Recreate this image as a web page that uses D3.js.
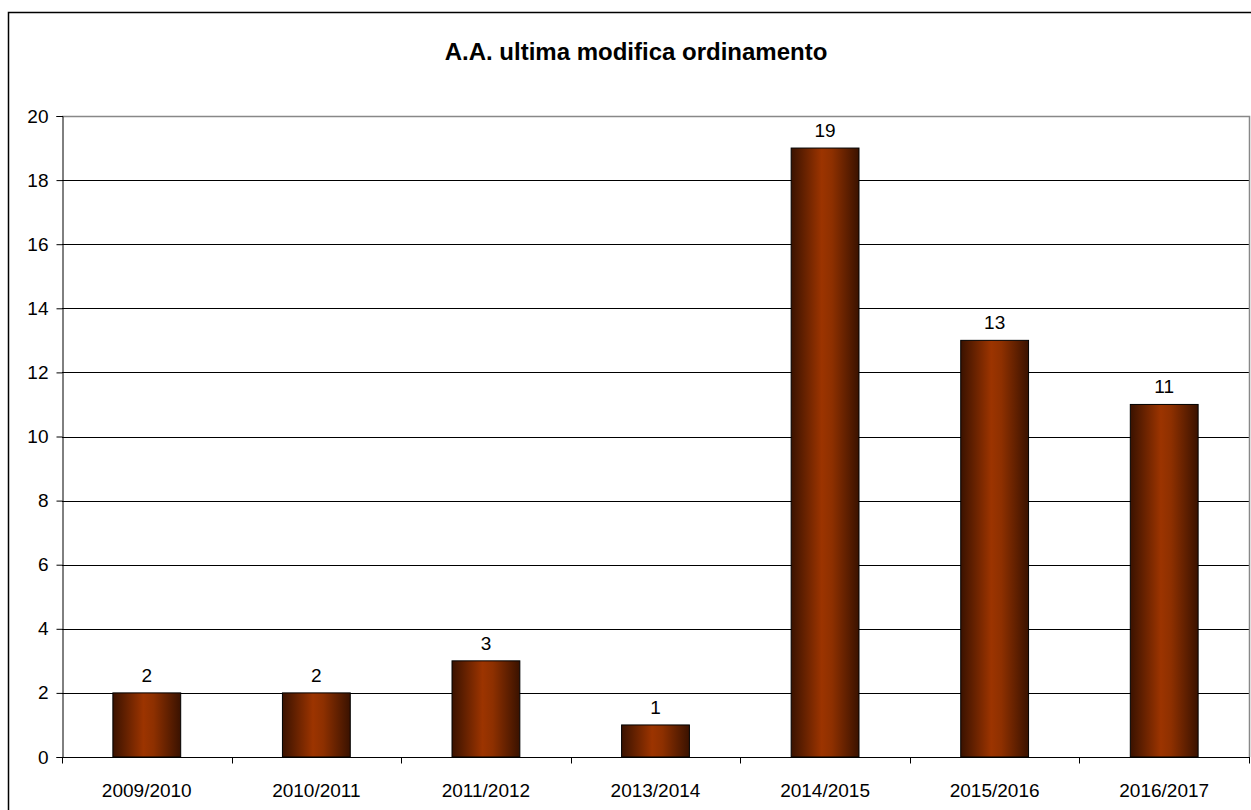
<!DOCTYPE html>
<html>
<head>
<meta charset="utf-8">
<script src="https://cdn.jsdelivr.net/npm/d3@7"></script>
<style>
  body { margin: 0; background: #fff; }
  text { font-family: "Liberation Sans", Arial, sans-serif; fill: #000; }
</style>
</head>
<body>
<div id="chart"></div>
<script>
// chart data
var categories = ["2009/2010", "2010/2011", "2011/2012", "2013/2014", "2014/2015", "2015/2016", "2016/2017"];
var values = [2, 2, 3, 1, 19, 13, 11];
var yTicks = [0, 2, 4, 6, 8, 10, 12, 14, 16, 18, 20];
var title = "A.A. ultima modifica ordinamento";

var width = 1251, height = 810;
var plot = {left: 62, top: 116, right: 1249, bottom: 757};

var svg = d3.select("#chart").append("svg")
    .attr("width", width)
    .attr("height", height);

var defs = svg.append("defs");
var grad = defs.append("linearGradient")
    .attr("id", "barGrad")
    .attr("x1", "0").attr("y1", "0")
    .attr("x2", "1").attr("y2", "0");
grad.append("stop").attr("offset", "0%").attr("stop-color", "#3a1200");
grad.append("stop").attr("offset", "45%").attr("stop-color", "#9c3400");
grad.append("stop").attr("offset", "60%").attr("stop-color", "#8e3000");
grad.append("stop").attr("offset", "100%").attr("stop-color", "#3a1200");

// outer frame
svg.append("rect")
    .attr("x", 8.5).attr("y", 12.5)
    .attr("width", 1270).attr("height", 830)
    .attr("fill", "none")
    .attr("stroke", "#000")
    .attr("stroke-width", 1.5);

svg.append("text")
    .attr("x", 636).attr("y", 60)
    .attr("text-anchor", "middle")
    .attr("font-size", "24px")
    .attr("font-weight", "bold")
    .text(title);

var x = d3.scaleBand()
    .domain(categories)
    .range([plot.left, plot.right])
    .paddingInner(0.6)
    .paddingOuter(0.3);

var y = d3.scaleLinear()
    .domain([0, 20])
    .range([plot.bottom, plot.top]);

// gridlines
svg.append("g")
    .attr("class", "grid")
    .selectAll("line")
    .data(yTicks.filter(function(d) { return d > 0 && d < 20; }))
    .enter().append("line")
    .attr("x1", plot.left).attr("x2", plot.right)
    .attr("y1", function(d) { return Math.round(y(d)) + 0.5; })
    .attr("y2", function(d) { return Math.round(y(d)) + 0.5; })
    .attr("stroke", "#000")
    .attr("stroke-width", 1);

// plot border (top and right in gray)
svg.append("path")
    .attr("d", "M" + plot.left + "," + (plot.top + 0.5) + "H" + (plot.right + 0.5) + "V" + plot.bottom)
    .attr("fill", "none")
    .attr("stroke", "#888")
    .attr("stroke-width", 1.5);

// y axis
var yAxis = svg.append("g")
    .attr("transform", "translate(" + (plot.left + 0.5) + ",0)")
    .call(d3.axisLeft(y).tickValues(yTicks).tickSize(6).tickPadding(8));
yAxis.select(".domain").attr("stroke", "#000");
yAxis.selectAll("text").attr("font-size", "19px").attr("font-family", "Liberation Sans, Arial, sans-serif");

// x axis with ticks at category boundaries
var xg = svg.append("g").attr("transform", "translate(0," + (plot.bottom + 0.5) + ")");
xg.append("line")
    .attr("x1", plot.left).attr("x2", plot.right + 1)
    .attr("stroke", "#000");
var bounds = d3.range(categories.length + 1).map(function(i) { return plot.left + i * (plot.right - plot.left) / categories.length; });
xg.selectAll(".tick")
    .data(bounds)
    .enter().append("line")
    .attr("x1", function(d) { return Math.round(d) + 0.5; })
    .attr("x2", function(d) { return Math.round(d) + 0.5; })
    .attr("y1", 0).attr("y2", 6)
    .attr("stroke", "#000");
xg.selectAll(".lbl")
    .data(categories)
    .enter().append("text")
    .attr("x", function(d) { return x(d) + x.bandwidth() / 2; })
    .attr("y", 39)
    .attr("text-anchor", "middle")
    .attr("font-size", "19px")
    .text(function(d) { return d; });

// bars
var data = categories.map(function(c, i) { return {name: c, value: values[i]}; });
svg.append("g").selectAll("rect")
    .data(data)
    .enter().append("rect")
    .attr("x", function(d) { return x(d.name); })
    .attr("y", function(d) { return y(d.value); })
    .attr("width", x.bandwidth())
    .attr("height", function(d) { return y(0) - y(d.value); })
    .attr("fill", "url(#barGrad)")
    .attr("stroke", "#000")
    .attr("stroke-width", 1);

// value labels
svg.append("g").selectAll("text")
    .data(data)
    .enter().append("text")
    .attr("x", function(d) { return x(d.name) + x.bandwidth() / 2; })
    .attr("y", function(d) { return y(d.value) - 11; })
    .attr("text-anchor", "middle")
    .attr("font-size", "19px")
    .text(function(d) { return d.value; });
</script>
</body>
</html>
